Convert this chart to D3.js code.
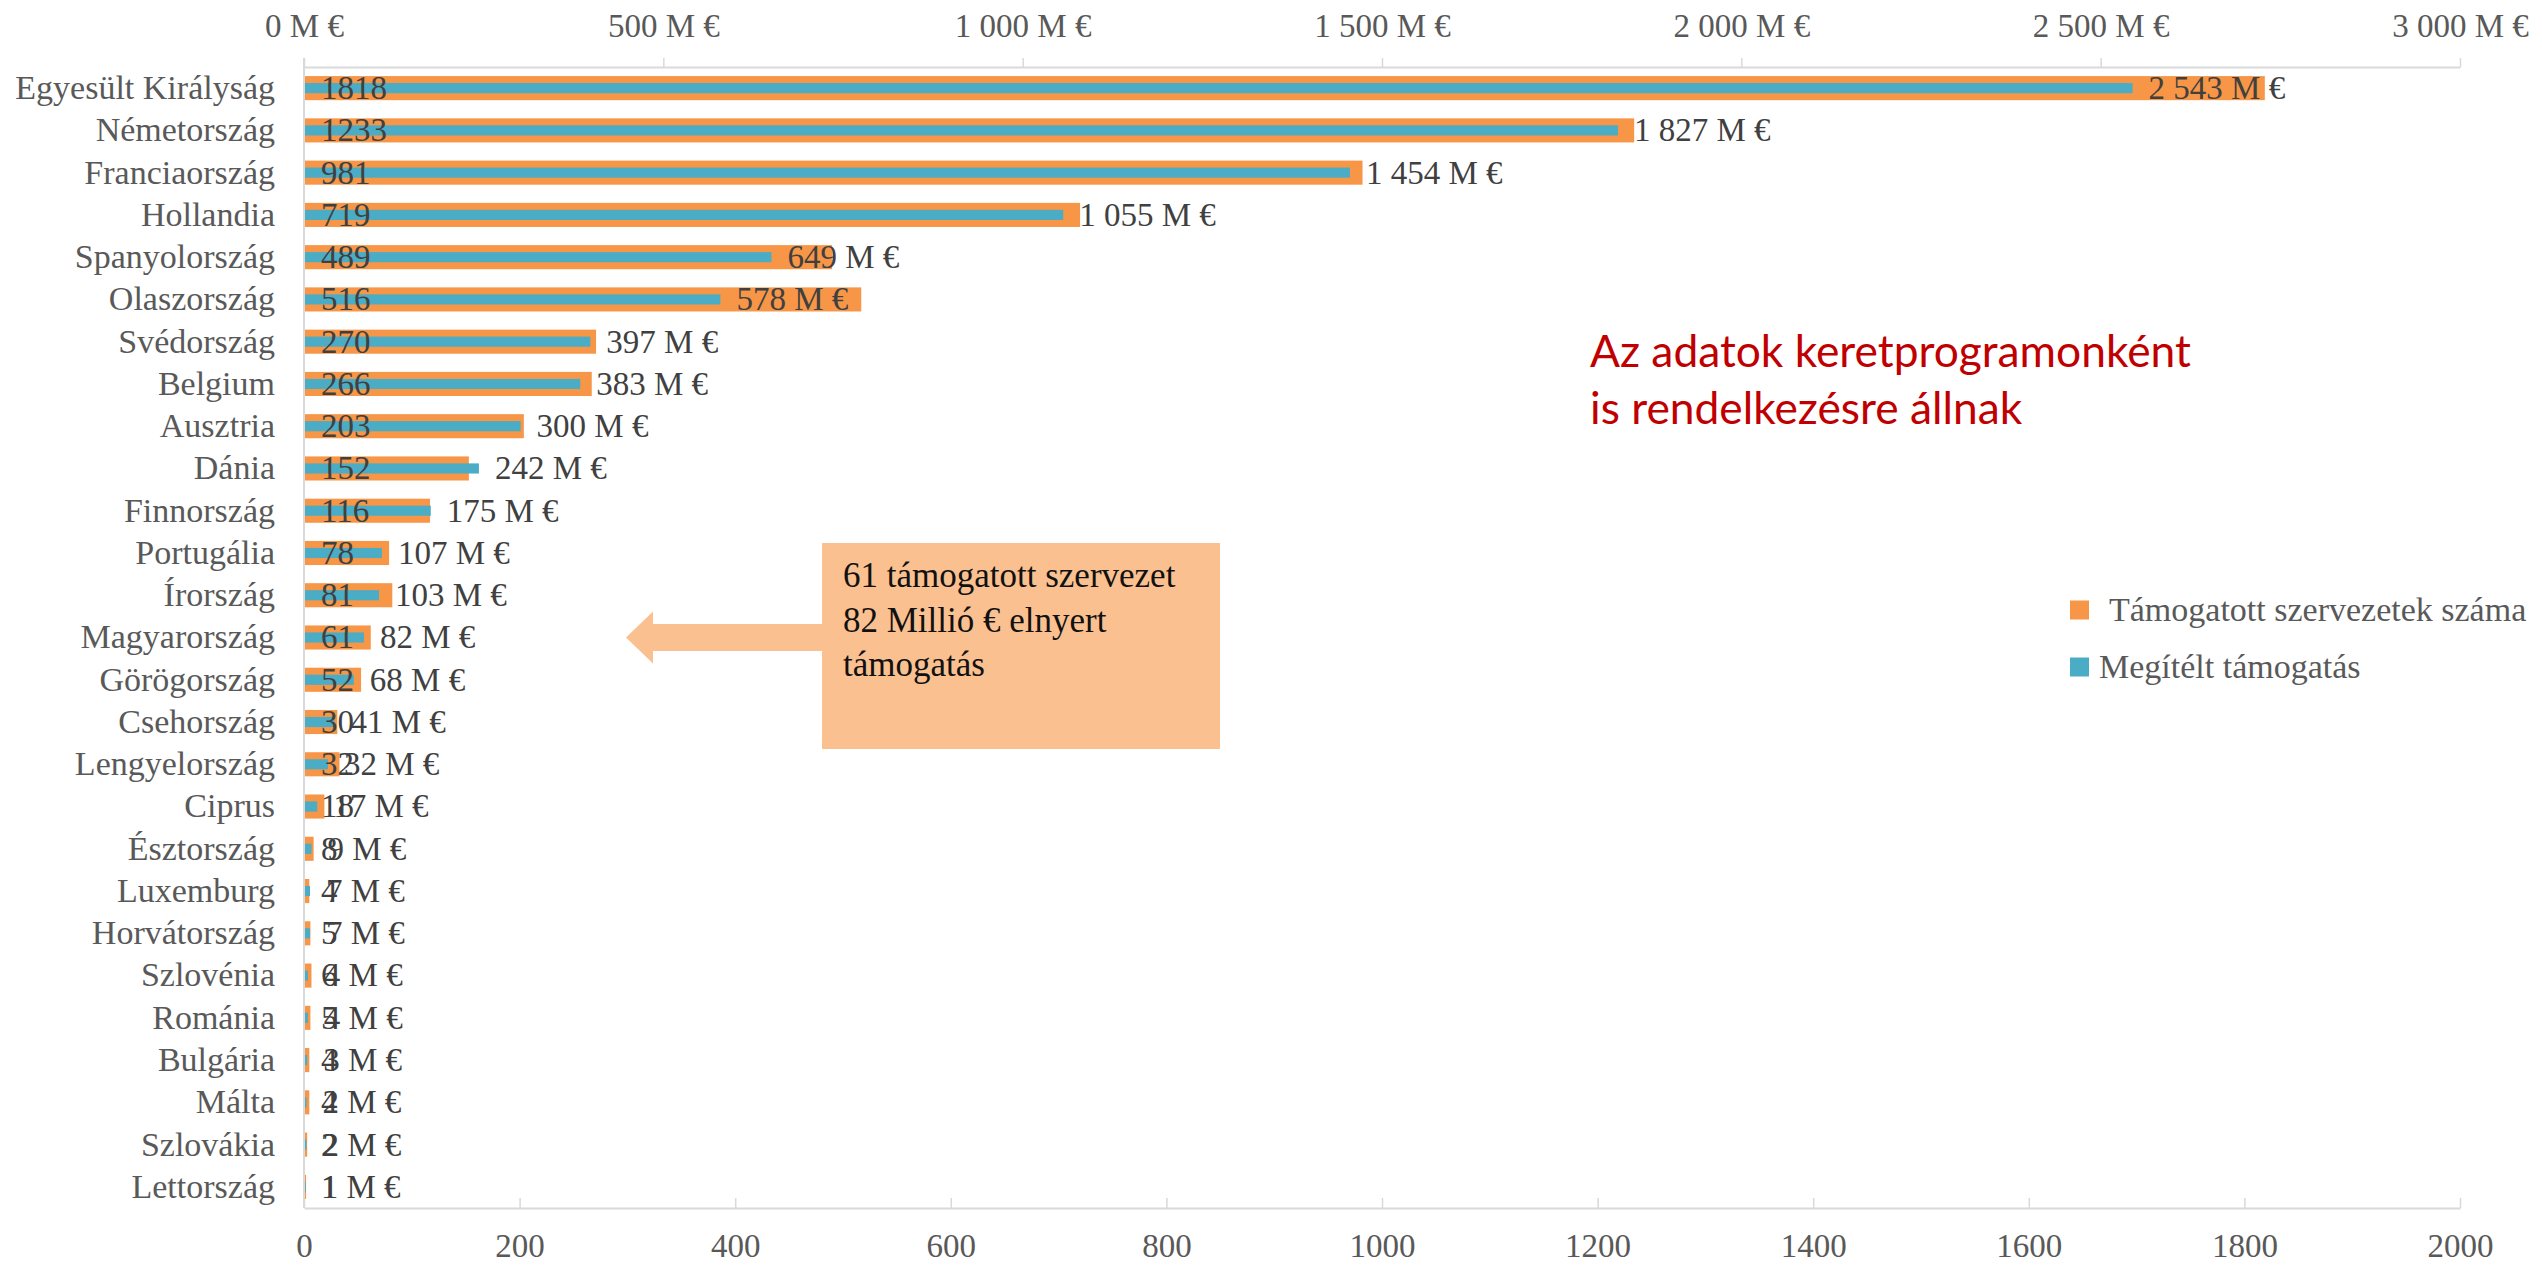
<!DOCTYPE html>
<html>
<head>
<meta charset="utf-8">
<script src="https://cdn.jsdelivr.net/npm/d3@7"></script>
<style>
  html, body { margin: 0; padding: 0; background: #ffffff; }
  svg { display: block; }
</style>
</head>
<body>
<svg id="chart" width="2542" height="1266"></svg>
<script>
// ---------- data ----------
const categories = [
  "Egyesült Királyság", "Németország", "Franciaország", "Hollandia", "Spanyolország",
  "Olaszország", "Svédország", "Belgium", "Ausztria", "Dánia", "Finnország",
  "Portugália", "Írország", "Magyarország", "Görögország", "Csehország",
  "Lengyelország", "Ciprus", "Észtország", "Luxemburg", "Horvátország",
  "Szlovénia", "Románia", "Bulgária", "Málta", "Szlovákia", "Lettország"
];
// Támogatott szervezetek száma (bottom axis)
const orgCounts = [1818, 1233, 981, 719, 489, 516, 270, 266, 203, 152, 116,
  78, 81, 61, 52, 30, 32, 18, 8, 4, 5, 6, 5, 4, 4, 2, 1];
// Megítélt támogatás, millió € (top axis)
const fundingMEur = [2543, 1827, 1454, 1055, 649, 578, 397, 383, 300, 242, 175,
  107, 103, 82, 68, 41, 32, 17, 9, 7, 7, 4, 4, 3, 2, 2, 1];
const topTicks = [0, 500, 1000, 1500, 2000, 2500, 3000];
const bottomTicks = [0, 200, 400, 600, 800, 1000, 1200, 1400, 1600, 1800, 2000];
const seriesNames = ["Támogatott szervezetek száma", "Megítélt támogatás"];
const noteLines = ["61 támogatott szervezet", "82 Millió € elnyert", "támogatás"];
const redLines = ["Az adatok keretprogramonként", "is rendelkezésre állnak"];

(function () {
// ---------- styles ----------
const ORANGE = "#F79646", BLUE = "#4BACC6", NOTE = "#FAC090";
const SERIF = "'Liberation Serif', 'Times New Roman', serif";
const AXIS_GRAY = "#d9d9d9", TEXT_GRAY = "#595959", LABEL_DARK = "#404040";

const svg = d3.select("#chart");
const pL = 304, pR = 2460, pT = 67, pB = 1208;

const xCount = d3.scaleLinear().domain([0, 2000]).range([pL, pR]);
const xFund = d3.scaleLinear().domain([0, 3000]).range([pL, pR]);
const y = d3.scaleBand().domain(categories).range([pT, pB]).padding(0);

const huLocale = d3.formatLocale({decimal: ",", thousands: " ", grouping: [3], currency: ["", " €"]});
const fmt = huLocale.format(",");

const rows = categories.map((c, i) => ({c, n: orgCounts[i], v: fundingMEur[i]}));

// ---------- axes ----------
const topAxis = d3.axisTop(xFund).tickValues(topTicks)
  .tickFormat(d => fmt(d) + " M €").tickSizeInner(9).tickSizeOuter(0).tickPadding(21);
const gTop = svg.append("g").attr("transform", `translate(0,${pT})`).call(topAxis);
gTop.select(".domain").attr("stroke", AXIS_GRAY).attr("stroke-width", 2);
gTop.selectAll(".tick line").attr("stroke", AXIS_GRAY).attr("stroke-width", 1.5);
gTop.selectAll(".tick text").attr("fill", TEXT_GRAY).style("font-family", SERIF).style("font-size", "33px");

const bottomAxis = d3.axisBottom(xCount).tickValues(bottomTicks)
  .tickFormat(d3.format("d")).tickSizeInner(-10).tickSizeOuter(0).tickPadding(26);
const gBot = svg.append("g").attr("transform", `translate(0,${pB})`).call(bottomAxis);
gBot.select(".domain").attr("stroke", AXIS_GRAY).attr("stroke-width", 2);
gBot.selectAll(".tick line").attr("stroke", AXIS_GRAY).attr("stroke-width", 1.5);
gBot.selectAll(".tick text").attr("fill", TEXT_GRAY).style("font-family", SERIF).style("font-size", "33px");

// vertical category axis line
svg.append("line").attr("x1", pL).attr("x2", pL).attr("y1", pT - 9).attr("y2", pB)
  .attr("stroke", AXIS_GRAY).attr("stroke-width", 2);

const leftAxis = d3.axisLeft(y).tickSize(0).tickPadding(29);
const gLeft = svg.append("g").attr("transform", `translate(${pL},0)`).call(leftAxis);
gLeft.select(".domain").remove();
gLeft.selectAll(".tick text").attr("fill", TEXT_GRAY).style("font-family", SERIF)
  .style("font-size", "34px").attr("dy", "0.32em");

// ---------- bars ----------
const bw = y.bandwidth();
const hO = bw * 0.57, hB = bw * 0.24;
svg.append("g").selectAll("rect").data(rows).join("rect")
  .attr("x", xCount(0) + 1).attr("y", d => y(d.c) + (bw - hO) / 2)
  .attr("width", d => Math.max(0, xCount(d.n) - xCount(0)))
  .attr("height", hO).attr("fill", ORANGE);
svg.append("g").selectAll("rect").data(rows).join("rect")
  .attr("x", xFund(0) + 1).attr("y", d => y(d.c) + (bw - hB) / 2)
  .attr("width", d => Math.max(0, xFund(d.v) - xFund(0)))
  .attr("height", hB).attr("fill", BLUE);

// ---------- data labels ----------
svg.append("g").selectAll("text").data(rows).join("text")
  .attr("x", xCount(0) + 17).attr("y", d => y(d.c) + bw / 2).attr("dy", "0.33em")
  .attr("fill", LABEL_DARK).style("font-family", SERIF).style("font-size", "33px")
  .text(d => d.n);
svg.append("g").selectAll("text").data(rows).join("text")
  .attr("x", d => xFund(d.v) + 17).attr("y", d => y(d.c) + bw / 2).attr("dy", "0.33em")
  .attr("fill", LABEL_DARK).style("font-family", SERIF).style("font-size", "33px")
  .text(d => fmt(d.v) + " M €");

// ---------- annotation (arrow + box) ----------
const hu = y("Magyarország") + bw / 2;
const boxX = 822, boxY = 543, boxW = 398, boxH = 206;
const arrow = d3.path();
const tipX = 626, headX = 653, shaftH = 13.5, headH = 26;
arrow.moveTo(tipX, hu);
arrow.lineTo(headX, hu - headH);
arrow.lineTo(headX, hu - shaftH);
arrow.lineTo(boxX, hu - shaftH);
arrow.lineTo(boxX, hu + shaftH);
arrow.lineTo(headX, hu + shaftH);
arrow.lineTo(headX, hu + headH);
arrow.closePath();
svg.append("path").attr("d", arrow.toString()).attr("fill", NOTE);
svg.append("rect").attr("x", boxX).attr("y", boxY).attr("width", boxW).attr("height", boxH).attr("fill", NOTE);
svg.append("g").selectAll("text").data(noteLines).join("text")
  .attr("x", boxX + 21).attr("y", (d, i) => boxY + 44 + i * 44.5)
  .attr("fill", "#111111").style("font-family", SERIF).style("font-size", "35px")
  .text(d => d);

// ---------- red note ----------
const red = svg.append("g").selectAll("text").data(redLines).join("text")
  .attr("x", 1590).attr("y", (d, i) => 367 + i * 57)
  .attr("fill", "#C00000").style("font-family", "Lato, 'Open Sans', sans-serif").style("font-size", "40px")
  .text(d => d);
const w0 = red.nodes()[0].getComputedTextLength();
red.style("font-size", (40 * 601 / w0) + "px");

// ---------- legend ----------
const legend = svg.append("g");
const legY = [610, 667];
const legTextX = [2109, 2099];
[ORANGE, BLUE].forEach((col, i) => {
  legend.append("rect").attr("x", 2070).attr("y", legY[i] - 9.5).attr("width", 19).attr("height", 19).attr("fill", col);
  legend.append("text").attr("x", legTextX[i]).attr("y", legY[i] + 11)
    .attr("fill", TEXT_GRAY).style("font-family", SERIF).style("font-size", "34px")
    .text(seriesNames[i]);
});
})();
</script>
</body>
</html>
